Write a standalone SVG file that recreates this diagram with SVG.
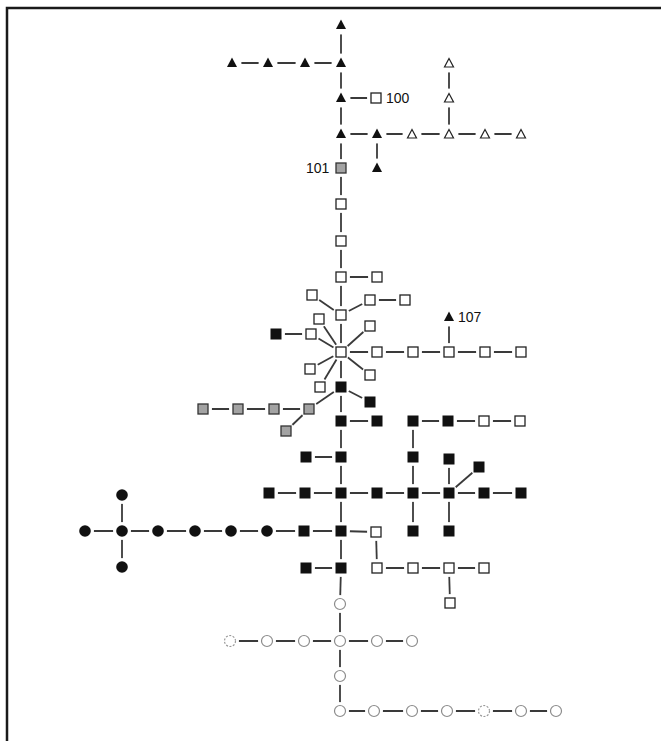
<svg xmlns="http://www.w3.org/2000/svg" xmlns:xlink="http://www.w3.org/1999/xlink" width="661" height="741" viewBox="0 0 661 741">
<style>
.frame{fill:none;stroke:#1a1a1a;stroke-width:2.5}
#edges line{stroke:#3a3a3a;stroke-width:1.8}
.halo{fill:#fff}
.tb{fill:#111}
.to{fill:#fff;stroke:#222;stroke-width:1.2}
.sb{fill:#111}
.so{fill:#fff;stroke:#222;stroke-width:1.3}
.sg{fill:#a3a3a3;stroke:#333;stroke-width:1.3}
.cb{fill:#111}
.co{fill:#fff;stroke:#8c8c8c;stroke-width:1.2}
.cd{fill:#fff;stroke:#9a9a9a;stroke-width:1.2;stroke-dasharray:2 1.5}
text{font-family:"Liberation Sans",Arial,sans-serif;font-size:14px;fill:#111}
</style>
<defs>
<g id="tb"><circle class="halo" r="9.5"/><polygon class="tb" points="0,-5.5 5,4 -5,4"/></g>
<g id="to"><circle class="halo" r="9.5"/><polygon class="to" points="0,-4.5 4.5,4 -4.5,4"/></g>
<g id="sb"><circle class="halo" r="9"/><rect class="sb" x="-5.5" y="-5.5" width="11" height="11"/></g>
<g id="so"><circle class="halo" r="9"/><rect class="so" x="-5" y="-5" width="10" height="10"/></g>
<g id="sg"><circle class="halo" r="9"/><rect class="sg" x="-5" y="-5" width="10" height="10"/></g>
<g id="cb"><circle class="halo" r="9"/><circle class="cb" r="5.8"/></g>
<g id="co"><circle class="halo" r="9"/><circle class="co" r="5.5"/></g>
<g id="cd"><circle class="halo" r="9"/><circle class="cd" r="5.5"/></g>
</defs>
<rect width="661" height="741" fill="#fff"/>
<polyline class="frame" points="7,745 7,8 665,8"/>
<g id="edges">
<line x1="341" y1="25" x2="341" y2="63"/>
<line x1="232" y1="63" x2="268" y2="63"/>
<line x1="268" y1="63" x2="305" y2="63"/>
<line x1="305" y1="63" x2="341" y2="63"/>
<line x1="341" y1="63" x2="341" y2="98"/>
<line x1="341" y1="98" x2="376" y2="98"/>
<line x1="341" y1="98" x2="341" y2="134"/>
<line x1="341" y1="134" x2="377" y2="134"/>
<line x1="377" y1="134" x2="412" y2="134"/>
<line x1="412" y1="134" x2="449" y2="134"/>
<line x1="449" y1="134" x2="485" y2="134"/>
<line x1="485" y1="134" x2="521" y2="134"/>
<line x1="377" y1="134" x2="377" y2="168"/>
<line x1="449" y1="63" x2="449" y2="98"/>
<line x1="449" y1="98" x2="449" y2="134"/>
<line x1="341" y1="134" x2="341" y2="168"/>
<line x1="341" y1="168" x2="341" y2="204"/>
<line x1="341" y1="204" x2="341" y2="241"/>
<line x1="341" y1="241" x2="341" y2="277"/>
<line x1="341" y1="277" x2="377" y2="277"/>
<line x1="341" y1="277" x2="341" y2="315"/>
<line x1="341" y1="315" x2="312" y2="295"/>
<line x1="341" y1="315" x2="370" y2="300"/>
<line x1="370" y1="300" x2="405" y2="300"/>
<line x1="341" y1="315" x2="341" y2="352"/>
<line x1="341" y1="352" x2="319" y2="319"/>
<line x1="341" y1="352" x2="311" y2="334"/>
<line x1="311" y1="334" x2="276" y2="334"/>
<line x1="341" y1="352" x2="370" y2="326"/>
<line x1="341" y1="352" x2="377" y2="352"/>
<line x1="377" y1="352" x2="413" y2="352"/>
<line x1="413" y1="352" x2="449" y2="352"/>
<line x1="449" y1="352" x2="485" y2="352"/>
<line x1="485" y1="352" x2="521" y2="352"/>
<line x1="449" y1="352" x2="449" y2="317"/>
<line x1="341" y1="352" x2="310" y2="369"/>
<line x1="341" y1="352" x2="320" y2="387"/>
<line x1="341" y1="352" x2="370" y2="375"/>
<line x1="341" y1="352" x2="341" y2="387"/>
<line x1="341" y1="387" x2="370" y2="402"/>
<line x1="341" y1="387" x2="309" y2="409"/>
<line x1="203" y1="409" x2="238" y2="409"/>
<line x1="238" y1="409" x2="274" y2="409"/>
<line x1="274" y1="409" x2="309" y2="409"/>
<line x1="309" y1="409" x2="286" y2="431"/>
<line x1="341" y1="387" x2="341" y2="421"/>
<line x1="341" y1="421" x2="377" y2="421"/>
<line x1="413" y1="421" x2="448" y2="421"/>
<line x1="448" y1="421" x2="484" y2="421"/>
<line x1="484" y1="421" x2="520" y2="421"/>
<line x1="413" y1="421" x2="413" y2="457"/>
<line x1="413" y1="457" x2="413" y2="493"/>
<line x1="341" y1="421" x2="341" y2="457"/>
<line x1="306" y1="457" x2="341" y2="457"/>
<line x1="341" y1="457" x2="341" y2="493"/>
<line x1="449" y1="459" x2="449" y2="493"/>
<line x1="479" y1="467" x2="449" y2="493"/>
<line x1="269" y1="493" x2="305" y2="493"/>
<line x1="305" y1="493" x2="341" y2="493"/>
<line x1="341" y1="493" x2="377" y2="493"/>
<line x1="377" y1="493" x2="413" y2="493"/>
<line x1="413" y1="493" x2="449" y2="493"/>
<line x1="449" y1="493" x2="484" y2="493"/>
<line x1="484" y1="493" x2="521" y2="493"/>
<line x1="341" y1="493" x2="341" y2="531"/>
<line x1="413" y1="493" x2="413" y2="531"/>
<line x1="449" y1="493" x2="449" y2="531"/>
<line x1="122" y1="495" x2="122" y2="531"/>
<line x1="122" y1="531" x2="122" y2="567"/>
<line x1="85" y1="531" x2="122" y2="531"/>
<line x1="122" y1="531" x2="158" y2="531"/>
<line x1="158" y1="531" x2="195" y2="531"/>
<line x1="195" y1="531" x2="231" y2="531"/>
<line x1="231" y1="531" x2="267" y2="531"/>
<line x1="267" y1="531" x2="304" y2="531"/>
<line x1="304" y1="531" x2="341" y2="531"/>
<line x1="341" y1="531" x2="376" y2="532"/>
<line x1="376" y1="532" x2="377" y2="568"/>
<line x1="377" y1="568" x2="413" y2="568"/>
<line x1="413" y1="568" x2="449" y2="568"/>
<line x1="449" y1="568" x2="484" y2="568"/>
<line x1="449" y1="568" x2="450" y2="603"/>
<line x1="341" y1="531" x2="341" y2="568"/>
<line x1="306" y1="568" x2="341" y2="568"/>
<line x1="341" y1="568" x2="340" y2="604"/>
<line x1="340" y1="604" x2="340" y2="641"/>
<line x1="230" y1="641" x2="267" y2="641"/>
<line x1="267" y1="641" x2="304" y2="641"/>
<line x1="304" y1="641" x2="340" y2="641"/>
<line x1="340" y1="641" x2="377" y2="641"/>
<line x1="377" y1="641" x2="412" y2="641"/>
<line x1="340" y1="641" x2="340" y2="676"/>
<line x1="340" y1="676" x2="340" y2="711"/>
<line x1="340" y1="711" x2="374" y2="711"/>
<line x1="374" y1="711" x2="412" y2="711"/>
<line x1="412" y1="711" x2="447" y2="711"/>
<line x1="447" y1="711" x2="484" y2="711"/>
<line x1="484" y1="711" x2="521" y2="711"/>
<line x1="521" y1="711" x2="556" y2="711"/>
</g>
<g id="nodes">
<g id="t1"><use href="#tb" x="341" y="25"/></g>
<g id="t2"><use href="#tb" x="341" y="63"/></g>
<g id="t3"><use href="#tb" x="305" y="63"/></g>
<g id="t4"><use href="#tb" x="268" y="63"/></g>
<g id="t5"><use href="#tb" x="232" y="63"/></g>
<g id="t6"><use href="#tb" x="341" y="98"/></g>
<g id="t7"><use href="#tb" x="341" y="134"/></g>
<g id="t8"><use href="#tb" x="377" y="134"/></g>
<g id="t9"><use href="#tb" x="377" y="168"/></g>
<g id="o1"><use href="#to" x="412" y="134"/></g>
<g id="o2"><use href="#to" x="449" y="134"/></g>
<g id="o3"><use href="#to" x="485" y="134"/></g>
<g id="o4"><use href="#to" x="521" y="134"/></g>
<g id="o5"><use href="#to" x="449" y="63"/></g>
<g id="o6"><use href="#to" x="449" y="98"/></g>
<g id="n100"><use href="#so" x="376" y="98"/><text x="386" y="103">100</text></g>
<g id="n101"><use href="#sg" x="341" y="168"/><text x="306" y="173">101</text></g>
<g id="s1"><use href="#so" x="341" y="204"/></g>
<g id="s2"><use href="#so" x="341" y="241"/></g>
<g id="s3"><use href="#so" x="341" y="277"/></g>
<g id="s4"><use href="#so" x="377" y="277"/></g>
<g id="s5"><use href="#so" x="341" y="315"/></g>
<g id="s6"><use href="#so" x="312" y="295"/></g>
<g id="s7"><use href="#so" x="370" y="300"/></g>
<g id="s8"><use href="#so" x="405" y="300"/></g>
<g id="s9"><use href="#so" x="319" y="319"/></g>
<g id="s10"><use href="#so" x="370" y="326"/></g>
<g id="s11"><use href="#so" x="311" y="334"/></g>
<g id="b1"><use href="#sb" x="276" y="334"/></g>
<g id="hub"><use href="#so" x="341" y="352"/></g>
<g id="s12"><use href="#so" x="377" y="352"/></g>
<g id="s13"><use href="#so" x="413" y="352"/></g>
<g id="s14"><use href="#so" x="449" y="352"/></g>
<g id="s15"><use href="#so" x="485" y="352"/></g>
<g id="s16"><use href="#so" x="521" y="352"/></g>
<g id="n107"><use href="#tb" x="449" y="317"/><text x="458" y="322">107</text></g>
<g id="s17"><use href="#so" x="310" y="369"/></g>
<g id="s18"><use href="#so" x="370" y="375"/></g>
<g id="s19"><use href="#so" x="320" y="387"/></g>
<g id="b2"><use href="#sb" x="341" y="387"/></g>
<g id="b3"><use href="#sb" x="370" y="402"/></g>
<g id="g1"><use href="#sg" x="203" y="409"/></g>
<g id="g2"><use href="#sg" x="238" y="409"/></g>
<g id="g3"><use href="#sg" x="274" y="409"/></g>
<g id="g4"><use href="#sg" x="309" y="409"/></g>
<g id="g5"><use href="#sg" x="286" y="431"/></g>
<g id="b4"><use href="#sb" x="341" y="421"/></g>
<g id="b5"><use href="#sb" x="377" y="421"/></g>
<g id="b6"><use href="#sb" x="413" y="421"/></g>
<g id="b7"><use href="#sb" x="448" y="421"/></g>
<g id="s20"><use href="#so" x="484" y="421"/></g>
<g id="s21"><use href="#so" x="520" y="421"/></g>
<g id="b8"><use href="#sb" x="306" y="457"/></g>
<g id="b9"><use href="#sb" x="341" y="457"/></g>
<g id="b10"><use href="#sb" x="413" y="457"/></g>
<g id="b11"><use href="#sb" x="449" y="459"/></g>
<g id="b12"><use href="#sb" x="479" y="467"/></g>
<g id="b13"><use href="#sb" x="269" y="493"/></g>
<g id="b14"><use href="#sb" x="305" y="493"/></g>
<g id="b15"><use href="#sb" x="341" y="493"/></g>
<g id="b16"><use href="#sb" x="377" y="493"/></g>
<g id="b17"><use href="#sb" x="413" y="493"/></g>
<g id="b18"><use href="#sb" x="449" y="493"/></g>
<g id="b19"><use href="#sb" x="484" y="493"/></g>
<g id="b20"><use href="#sb" x="521" y="493"/></g>
<g id="c1"><use href="#cb" x="122" y="495"/></g>
<g id="c2"><use href="#cb" x="85" y="531"/></g>
<g id="c3"><use href="#cb" x="122" y="531"/></g>
<g id="c4"><use href="#cb" x="158" y="531"/></g>
<g id="c5"><use href="#cb" x="195" y="531"/></g>
<g id="c6"><use href="#cb" x="231" y="531"/></g>
<g id="c7"><use href="#cb" x="267" y="531"/></g>
<g id="c8"><use href="#cb" x="122" y="567"/></g>
<g id="b21"><use href="#sb" x="304" y="531"/></g>
<g id="b22"><use href="#sb" x="341" y="531"/></g>
<g id="s22"><use href="#so" x="376" y="532"/></g>
<g id="b23"><use href="#sb" x="413" y="531"/></g>
<g id="b24"><use href="#sb" x="449" y="531"/></g>
<g id="b25"><use href="#sb" x="306" y="568"/></g>
<g id="b26"><use href="#sb" x="341" y="568"/></g>
<g id="s23"><use href="#so" x="377" y="568"/></g>
<g id="s24"><use href="#so" x="413" y="568"/></g>
<g id="s25"><use href="#so" x="449" y="568"/></g>
<g id="s26"><use href="#so" x="484" y="568"/></g>
<g id="s27"><use href="#so" x="450" y="603"/></g>
<g id="w1"><use href="#co" x="340" y="604"/></g>
<g id="w2"><use href="#cd" x="230" y="641"/></g>
<g id="w3"><use href="#co" x="267" y="641"/></g>
<g id="w4"><use href="#co" x="304" y="641"/></g>
<g id="w5"><use href="#co" x="340" y="641"/></g>
<g id="w6"><use href="#co" x="377" y="641"/></g>
<g id="w7"><use href="#co" x="412" y="641"/></g>
<g id="w8"><use href="#co" x="340" y="676"/></g>
<g id="w9"><use href="#co" x="340" y="711"/></g>
<g id="w10"><use href="#co" x="374" y="711"/></g>
<g id="w11"><use href="#co" x="412" y="711"/></g>
<g id="w12"><use href="#co" x="447" y="711"/></g>
<g id="w13"><use href="#cd" x="484" y="711"/></g>
<g id="w14"><use href="#co" x="521" y="711"/></g>
<g id="w15"><use href="#co" x="556" y="711"/></g>
</g>
</svg>
